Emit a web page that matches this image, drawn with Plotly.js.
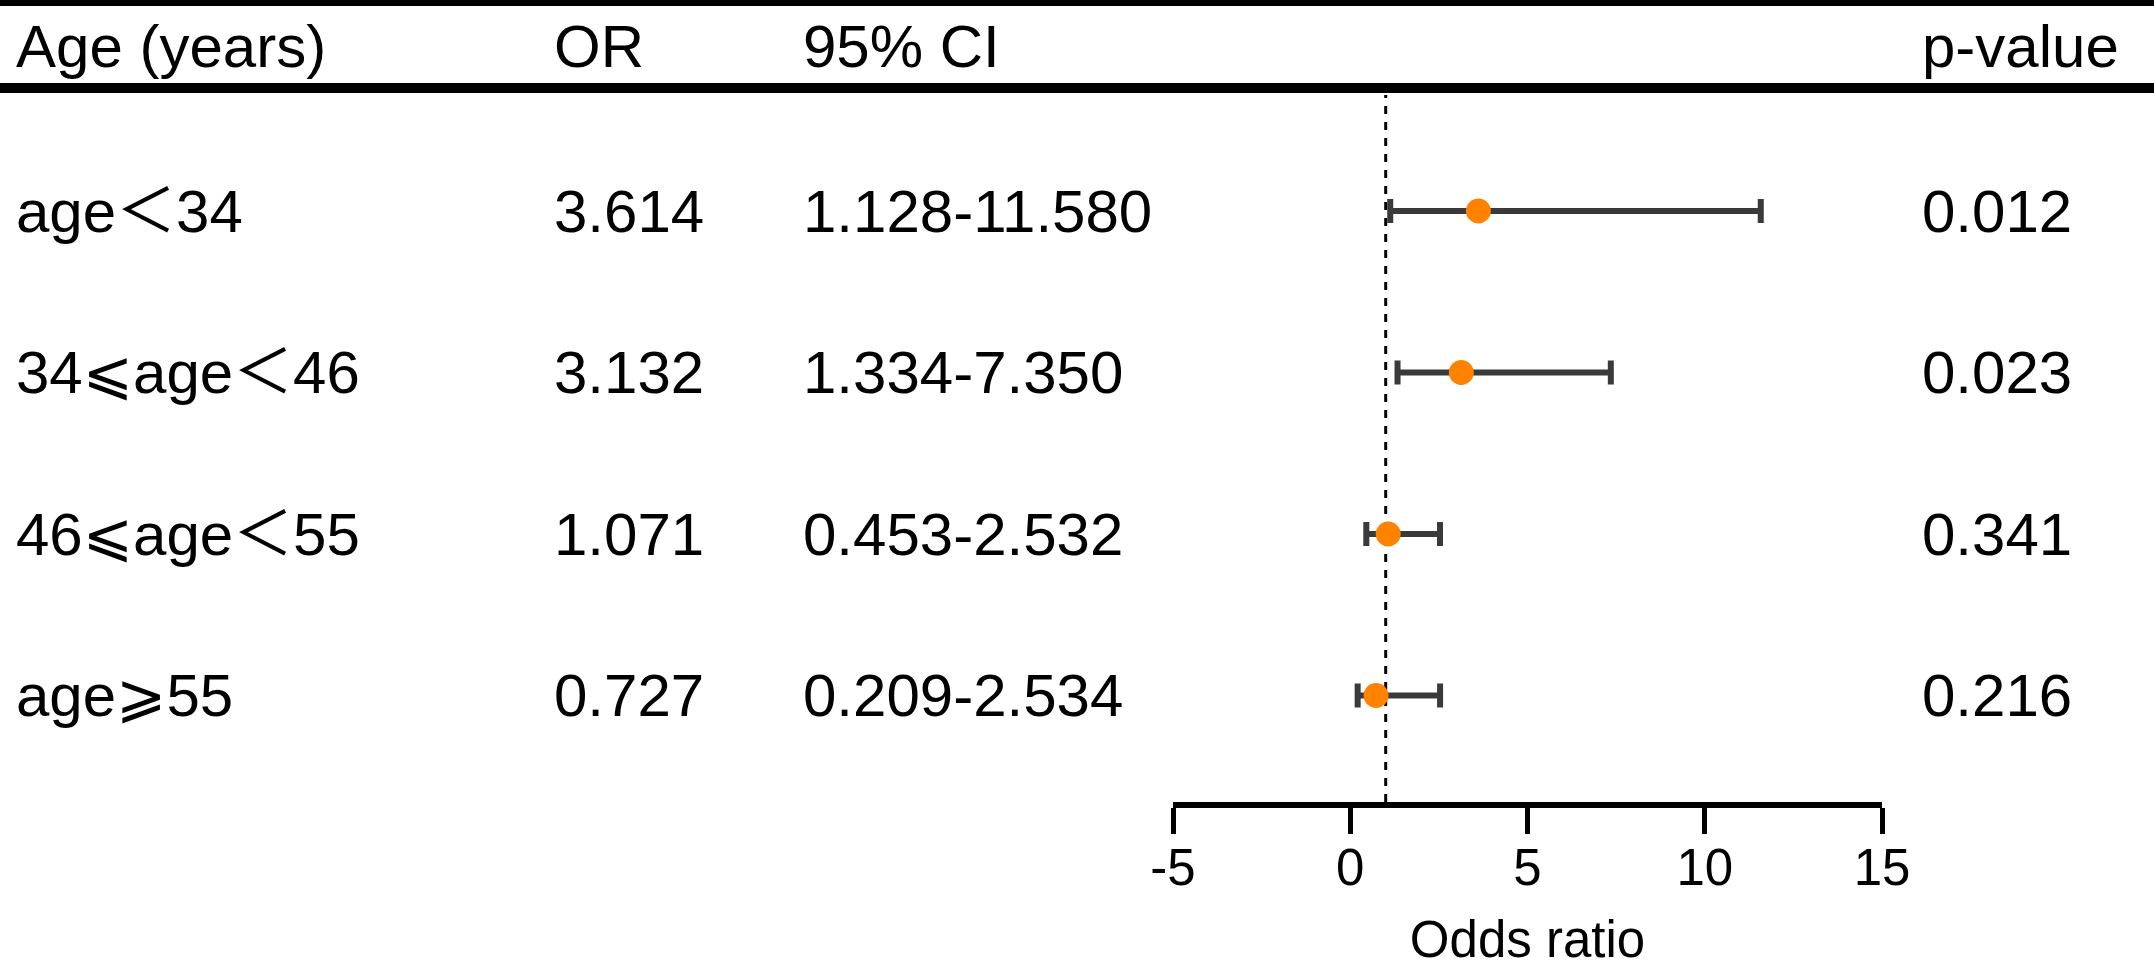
<!DOCTYPE html>
<html>
<head>
<meta charset="utf-8">
<script src="https://cdn.plot.ly/plotly-3.0.1.min.js"></script>
<style>
  html, body { margin: 0; padding: 0; background: #ffffff; }
  #chart { width: 2154px; height: 968px; }
</style>
</head>
<body>
<div id="chart"></div>
<script>
// ---------- data ----------
const groups = ['age＜34', '34⩽age＜46', '46⩽age＜55', 'age⩾55'];
const orValues = [3.614, 3.132, 1.071, 0.727];
const ciLower = [1.128, 1.334, 0.453, 0.209];
const ciUpper = [11.580, 7.350, 2.532, 2.534];
const pValues = ['0.012', '0.023', '0.341', '0.216'];
const rowPos = [1, 2, 3, 4];
const headers = ['Age (years)', 'OR', '95% CI', 'p-value'];
const xTicks = [-5, 0, 5, 10, 15];
const refLine = 1;

// ---------- geometry (pixels) ----------
const W = 2154, H = 968;
const FONT = 'Liberation Sans, Arial, Noto Sans CJK SC, DejaVu Sans, sans-serif';
const plotBottom = 802;        // pixel y of plot-area bottom (x axis)
const firstRowPx = 211, rowStep = 161.5;
const yTop = 1 - firstRowPx / rowStep;
const yBottom = yTop + plotBottom / rowStep;
const colX = [14, 552, 801, 1920];   // left edges of table columns
const px = v => v / W;
const py = v => 1 - v / H;

const ciText = ciLower.map((lo, i) => lo.toFixed(3) + '-' + ciUpper[i].toFixed(3));
const orText = orValues.map(v => v.toFixed(3));

const trace = {
  type: 'scatter',
  mode: 'markers',
  x: orValues,
  y: rowPos,
  marker: { color: '#FF8200', size: 25, line: { width: 0 } },
  error_x: {
    type: 'data',
    symmetric: false,
    array: orValues.map((v, i) => ciUpper[i] - v),
    arrayminus: orValues.map((v, i) => v - ciLower[i]),
    color: '#3a3a3a',
    thickness: 6,
    width: 12
  },
  hoverinfo: 'skip',
  cliponaxis: false
};

const annotations = [];
const fontMain = { family: FONT, size: 60, color: '#000000' };
headers.forEach((h, j) => {
  annotations.push({
    text: h, xref: 'paper', yref: 'paper', x: px(colX[j]), y: py(46),
    xanchor: 'left', yanchor: 'middle', showarrow: false, font: fontMain
  });
});
const columns = [groups, orText, ciText, pValues];
rowPos.forEach((r, i) => {
  columns.forEach((col, j) => {
    annotations.push({
      text: col[i], xref: 'paper', yref: 'y', x: px(colX[j]), y: r,
      xanchor: 'left', yanchor: 'middle', showarrow: false, font: fontMain
    });
  });
});

const layout = {
  width: W, height: H,
  margin: { l: 0, r: 0, t: 0, b: 0, pad: 0 },
  paper_bgcolor: '#ffffff', plot_bgcolor: '#ffffff',
  showlegend: false,
  xaxis: {
    range: [-5, 15],
    domain: [px(1173), px(1882)],
    tickvals: xTicks,
    ticktext: xTicks.map(String),
    ticks: 'outside', ticklen: 26, tickwidth: 5, tickcolor: '#000000',
    ticklabelstandoff: -10,
    showline: true, linewidth: 6, linecolor: '#000000',
    showgrid: false, zeroline: false,
    tickfont: { family: FONT, size: 51, color: '#000000' },
    title: { text: 'Odds ratio', font: { family: FONT, size: 51, color: '#000000' }, standoff: 36 },
    fixedrange: true
  },
  yaxis: {
    range: [yBottom, yTop],
    domain: [1 - plotBottom / H, 1],
    visible: false, showgrid: false, zeroline: false, fixedrange: true
  },
  shapes: [
    { type: 'rect', xref: 'paper', yref: 'paper', x0: 0, x1: 1, y0: py(6), y1: py(0),
      fillcolor: '#000000', line: { width: 0 } },
    { type: 'rect', xref: 'paper', yref: 'paper', x0: 0, x1: 1, y0: py(93), y1: py(83),
      fillcolor: '#000000', line: { width: 0 } },
    { type: 'line', xref: 'x', yref: 'paper', x0: refLine, x1: refLine,
      y0: py(plotBottom), y1: py(95),
      line: { color: '#000000', width: 3, dash: '8px,8px' }, layer: 'below' }
  ],
  annotations: annotations
};

Plotly.newPlot('chart', [trace], layout, { staticPlot: true, displayModeBar: false });
</script>
</body>
</html>
